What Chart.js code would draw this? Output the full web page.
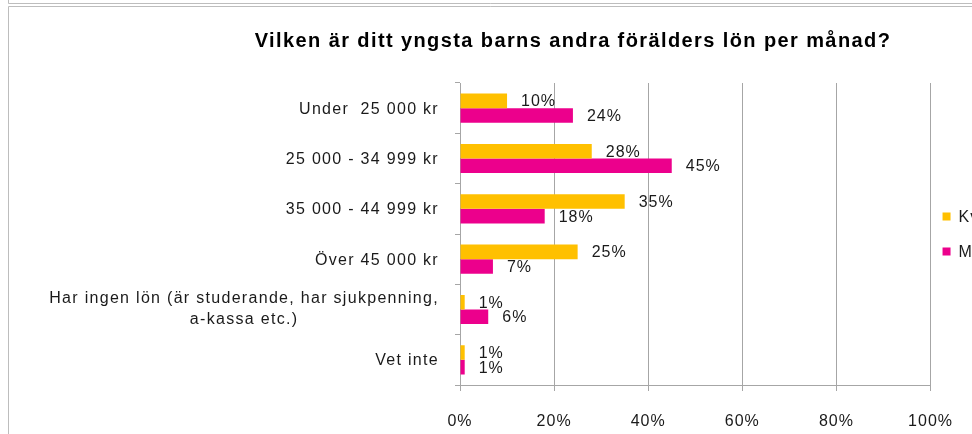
<!DOCTYPE html>
<html><head><meta charset="utf-8">
<script src="https://cdn.jsdelivr.net/npm/chart.js@4/dist/chart.umd.min.js"></script>
<style>html,body{margin:0;padding:0;background:#fff;overflow:hidden}#wrap{position:relative;width:972px;height:434px}</style>
</head><body><div id="wrap"><canvas id="c" width="972" height="434"></canvas></div>
<script>
const chartTitle = 'Vilken är ditt yngsta barns andra förälders lön per månad?';
const categories = [
  ['Under  25 000 kr'],
  ['25 000 - 34 999 kr'],
  ['35 000 - 44 999 kr'],
  ['Över 45 000 kr'],
  ['Har ingen lön (är studerande, har sjukpenning,', 'a-kassa etc.)'],
  ['Vet inte']
];
const seriesNames = ['Kvinna', 'Man'];
const kvinnaValues = [10, 28, 35, 25, 1, 1];
const manValues = [24, 45, 18, 7, 6, 1];
const xTickValues = [0, 20, 40, 60, 80, 100];

const colors = ['#FFC000', '#EC008C'];
const FONT = '"Liberation Sans", Arial, sans-serif';
const TXT = '#1a1a1a';
const GRID = '#a6a6a6';

const deco = {
  id: 'deco',
  beforeDraw(chart) {
    const ctx = chart.ctx;
    ctx.save();
    ctx.fillStyle = '#fff';
    ctx.fillRect(0, 0, chart.width, chart.height);
    ctx.strokeStyle = '#bdbdbd';
    ctx.lineWidth = 1;
    ctx.beginPath();
    ctx.moveTo(8.5, 0); ctx.lineTo(8.5, 3.5); ctx.lineTo(chart.width, 3.5);
    ctx.moveTo(8.5, chart.height); ctx.lineTo(8.5, 6.5); ctx.lineTo(chart.width, 6.5);
    ctx.stroke();
    ctx.restore();
    ctx.letterSpacing = '1px';
  },
  afterDatasetsDraw(chart) {
    const ctx = chart.ctx;
    ctx.save();
    ctx.letterSpacing = '1px';
    ctx.font = '16px ' + FONT;
    ctx.fillStyle = TXT;
    ctx.textAlign = 'left';
    ctx.textBaseline = 'middle';
    chart.data.datasets.forEach((ds, di) => {
      const meta = chart.getDatasetMeta(di);
      meta.data.forEach((bar, i) => {
        ctx.fillText(ds.data[i] + '%', bar.x + 14, bar.y + 1);
      });
    });
    ctx.restore();
  },
  afterDraw(chart) {
    const ctx = chart.ctx;
    const ca = chart.chartArea;
    const ys = chart.scales.y;
    ctx.save();
    // category labels
    ctx.letterSpacing = '1.3px';
    ctx.font = '16px ' + FONT;
    ctx.fillStyle = TXT;
    ctx.textBaseline = 'middle';
    const rightEdge = ca.left - 21;
    categories.forEach((lines, i) => {
      const yc = ys.getPixelForValue(i);
      if (lines.length === 1) {
        ctx.textAlign = 'right';
        ctx.fillText(lines[0], rightEdge, yc + 1);
      } else {
        const w = Math.max(...lines.map(l => ctx.measureText(l).width));
        const cx = rightEdge - w / 2;
        ctx.textAlign = 'center';
        const lh = 21;
        lines.forEach((l, k) => {
          ctx.fillText(l, cx, yc - lh * (lines.length - 1) / 2 + k * lh);
        });
      }
    });
    // title
    ctx.font = 'bold 20px ' + FONT;
    ctx.letterSpacing = '1.4px';
    ctx.textAlign = 'center';
    ctx.textBaseline = 'alphabetic';
    ctx.fillStyle = '#000';
    ctx.fillText(chartTitle, 573, 47);
    // legend
    ctx.letterSpacing = '1px';
    ctx.font = '16px ' + FONT;
    ctx.textAlign = 'left';
    ctx.textBaseline = 'middle';
    const midY = (ca.top + ca.bottom) / 2;
    chart.data.datasets.forEach((ds, di) => {
      const y = midY - 17.5 + di * 35;
      ctx.fillStyle = ds.backgroundColor;
      ctx.fillRect(ca.right + 12, y - 4, 8, 8);
      ctx.fillStyle = TXT;
      ctx.fillText(ds.label, ca.right + 28, y + 1);
    });
    ctx.restore();
  }
};

new Chart(document.getElementById('c'), {
  type: 'bar',
  data: {
    labels: categories,
    datasets: [
      { label: seriesNames[0], data: kvinnaValues, backgroundColor: colors[0], borderWidth: 0, barPercentage: 1, categoryPercentage: 0.58 },
      { label: seriesNames[1], data: manValues, backgroundColor: colors[1], borderWidth: 0, barPercentage: 1, categoryPercentage: 0.58 }
    ]
  },
  options: {
    indexAxis: 'y',
    responsive: false,
    animation: false,
    devicePixelRatio: 1,
    layout: { padding: { top: 83, right: 38, left: 0, bottom: 0 } },
    plugins: { legend: { display: false }, title: { display: false }, tooltip: { enabled: false } },
    scales: {
      x: {
        min: 0, max: 100,
        afterBuildTicks: s => { s.ticks = xTickValues.map(v => ({ value: v })); },
        ticks: { callback: v => v + '%', font: { size: 16, family: FONT }, color: TXT, padding: 21, maxRotation: 0 },
        grid: { color: GRID, tickLength: 6, lineWidth: 1 },
        border: { color: GRID },
        afterFit: s => { s.height = 49; }
      },
      y: {
        ticks: { display: false },
        grid: { drawOnChartArea: false, drawTicks: true, tickLength: 5, color: GRID, offset: true },
        border: { color: GRID },
        afterFit: s => { s.width = 460; }
      }
    }
  },
  plugins: [deco]
});
</script>
</body></html>
